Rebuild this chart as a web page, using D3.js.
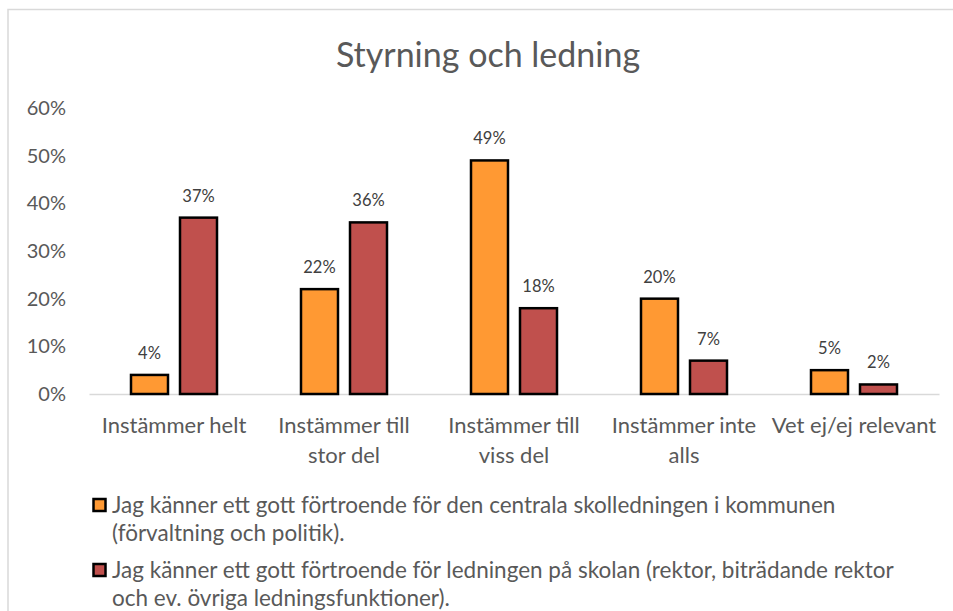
<!DOCTYPE html>
<html>
<head>
<meta charset="utf-8">
<script src="https://cdn.jsdelivr.net/npm/d3@7"></script>
<style>
  html, body { margin: 0; padding: 0; background: #fff; }
  svg { display: block; font-family: Lato, "Open Sans", sans-serif; }
</style>
</head>
<body>
<svg id="chart" width="953" height="611"></svg>
<script>
const title = "Styrning och ledning";
const categories = ["Instämmer helt", "Instämmer till stor del", "Instämmer till viss del", "Instämmer inte alls", "Vet ej/ej relevant"];
const seriesNames = [
  "Jag känner ett gott förtroende för den centrala skolledningen i kommunen (förvaltning och politik).",
  "Jag känner ett gott förtroende för ledningen på skolan (rektor, biträdande rektor och ev. övriga ledningsfunktioner)."
];
const seriesCentral = [0.04, 0.22, 0.49, 0.20, 0.05];
const seriesSkola = [0.37, 0.36, 0.18, 0.07, 0.02];
const seriesColors = ["#FF9933", "#C0504D"];
const yTicks = [0, 0.1, 0.2, 0.3, 0.4, 0.5, 0.6];

const W = 953, H = 611;
const margin = { left: 89, right: 14, top: 108, bottom: 217 };
const svg = d3.select("#chart");
const textColor = "#595959";
const FONT = "Lato, 'Open Sans', sans-serif";

// chart border
svg.append("rect")
  .attr("x", 8).attr("y", 9.5)
  .attr("width", 1000).attr("height", 700)
  .attr("fill", "#fff").attr("stroke", "#d9d9d9").attr("stroke-width", 1.5);

// title
svg.append("text")
  .attr("x", 488).attr("y", 67)
  .attr("text-anchor", "middle")
  .attr("fill", textColor)
  .style("font-size", "34px")
  .text(title);

const x0 = d3.scaleBand().domain(categories).range([margin.left, W - margin.right]);
const x1 = d3.scaleBand().domain([0, 1]).range([0, x0.bandwidth()]).paddingInner(0.245).paddingOuter(0.857);
const y = d3.scaleLinear().domain([0, 0.6]).range([H - margin.bottom, margin.top]);

// y axis labels
const yAxis = d3.axisLeft(y).tickValues(yTicks).tickFormat(d3.format(".0%")).tickSize(0).tickPadding(0);
const yG = svg.append("g").attr("transform", `translate(66,0)`).call(yAxis);
yG.select(".domain").remove();
yG.selectAll("text").attr("fill", textColor).style("font-size", "20px").style("font-family", FONT);

// baseline axis
const xAxis = d3.axisBottom(x0).tickSize(0).tickFormat("");
const xG = svg.append("g").attr("transform", `translate(0,${y(0)})`).call(xAxis);
xG.select(".domain").attr("stroke", "#d9d9d9").attr("stroke-width", 1.5);

// bars
const series = [seriesCentral, seriesSkola];
series.forEach((vals, si) => {
  const g = svg.append("g");
  g.selectAll("rect").data(vals).join("rect")
    .attr("x", (d, i) => x0(categories[i]) + x1(si))
    .attr("y", d => y(d))
    .attr("width", x1.bandwidth())
    .attr("height", d => y(0) - y(d))
    .attr("fill", seriesColors[si])
    .attr("stroke", "#000")
    .attr("stroke-width", 2.5);
  g.selectAll("text").data(vals).join("text")
    .attr("x", (d, i) => x0(categories[i]) + x1(si) + x1.bandwidth() / 2)
    .attr("y", d => y(d) - 16)
    .attr("text-anchor", "middle")
    .attr("fill", "#404040")
    .style("font-size", "16.5px")
    .text(d => d3.format(".0%")(d));
});

// wrap helper
function wrapLines(text, maxWidth, fontSize) {
  const tmp = svg.append("text").style("font-size", fontSize + "px");
  const words = text.split(" ");
  const lines = [];
  let cur = "";
  words.forEach(w => {
    const test = cur ? cur + " " + w : w;
    tmp.text(test);
    if (tmp.node().getComputedTextLength() > maxWidth && cur) {
      lines.push(cur); cur = w;
    } else cur = test;
  });
  if (cur) lines.push(cur);
  tmp.remove();
  return lines;
}

// category labels
categories.forEach(c => {
  const lines = wrapLines(c, 168, 22);
  const t = svg.append("text")
    .attr("text-anchor", "middle")
    .attr("fill", textColor)
    .style("font-size", "22px");
  lines.forEach((l, i) => {
    t.append("tspan")
      .attr("x", x0(c) + x0.bandwidth() / 2)
      .attr("y", 433 + i * 30)
      .text(l);
  });
});

// legend
const legendTop = [505, 570];
seriesNames.forEach((name, si) => {
  const lines = wrapLines(name, 810, 22.5);
  svg.append("rect")
    .attr("x", 93.5).attr("y", legendTop[si] - 6)
    .attr("width", 12).attr("height", 12)
    .attr("fill", seriesColors[si]).attr("stroke", "#000").attr("stroke-width", 2.5);
  const t = svg.append("text").attr("fill", textColor).style("font-size", "22.5px");
  lines.forEach((l, i) => {
    t.append("tspan").attr("x", 112).attr("y", legendTop[si] + 8 + i * 28).text(l);
  });
});
</script>
</body>
</html>
